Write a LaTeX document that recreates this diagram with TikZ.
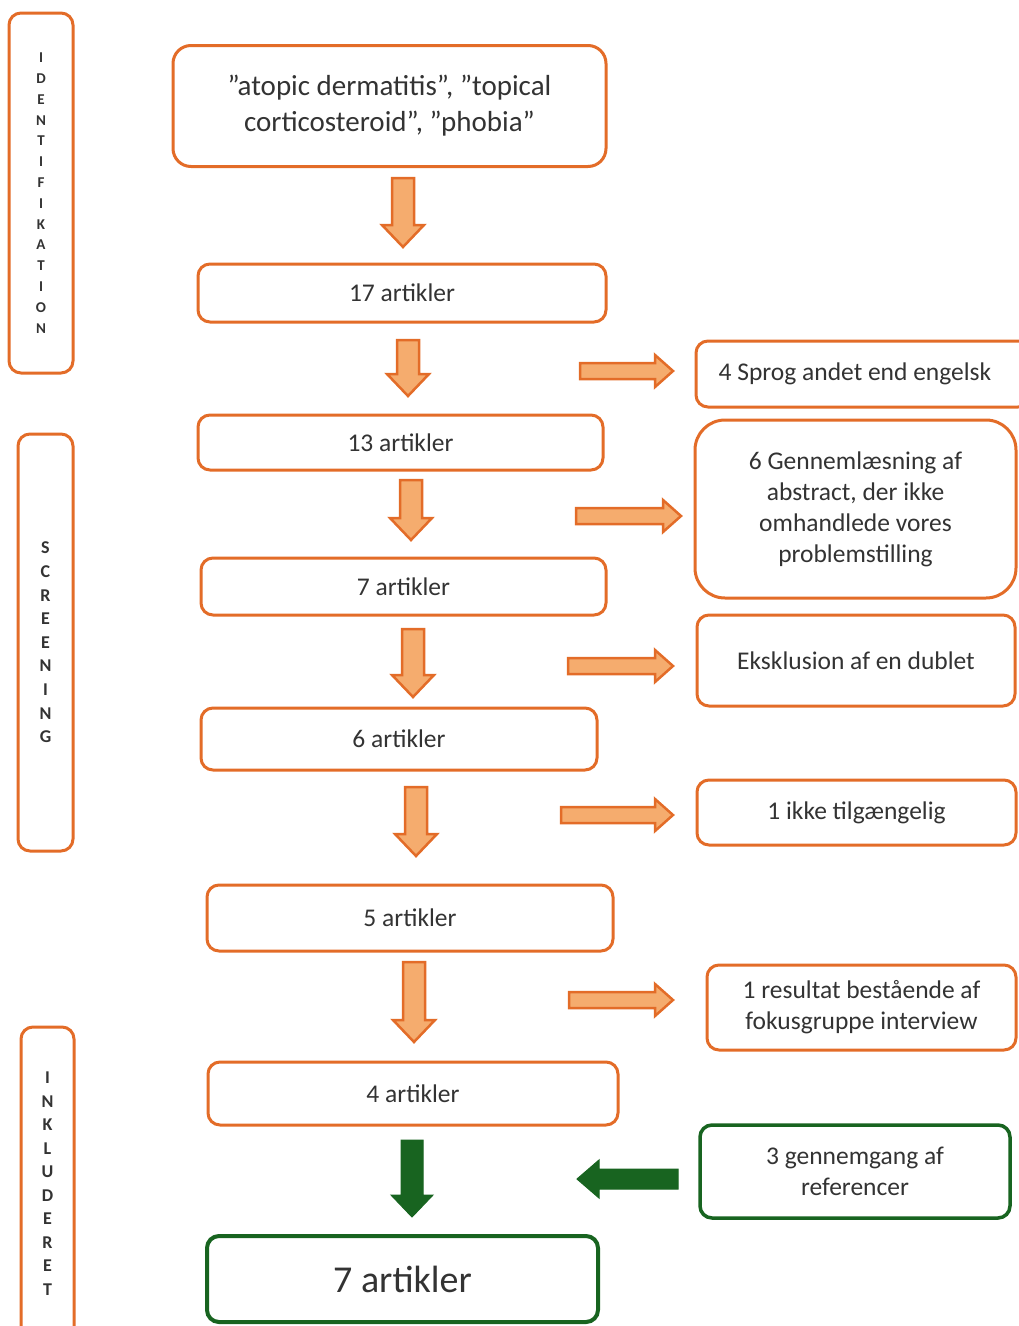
\documentclass[tikz,border=0pt]{standalone}
\usepackage{fontspec}
\setmainfont{Carlito}
\usepackage{xcolor}
\usetikzlibrary{positioning}
\usetikzlibrary{calc}

\definecolor{orng}{RGB}{227,108,40}
\definecolor{arrfill}{RGB}{245,172,110}
\definecolor{grn}{RGB}{24,100,32}
\definecolor{txt}{RGB}{51,51,51}

\tikzset{
  box/.style={draw=orng, line width=3pt, rounded corners=12pt, fill=white,
    align=center, text=txt, inner sep=0pt,
    font=\fontsize{25.5}{31}\selectfont},
  gbox/.style={box, draw=grn, line width=3.5pt},
  side/.style={draw=orng, line width=3pt, rounded corners=12pt, align=center,
    text=txt, inner sep=0pt},
  blockarr/.style={draw=orng, fill=arrfill, line width=2.5pt, line join=miter},
  greenarr/.style={draw=grn, fill=grn, line width=1pt},
}

% fat arrows: x, y from, y to  /  x from, x to, y
\newcommand{\dnarr}[4][blockarr]{%
  \draw[#1] (#2-11,#3) -- (#2+11,#3) -- (#2+11,#4-22) -- (#2+21,#4-22)
    -- (#2,#4) -- (#2-21,#4-22) -- (#2-11,#4-22) -- cycle;}
\newcommand{\rtarr}[4][blockarr]{%
  \draw[#1] (#2,#4-8) -- (#3-18,#4-8) -- (#3-18,#4-16) -- (#3,#4)
    -- (#3-18,#4+16) -- (#3-18,#4+8) -- (#2,#4+8) -- cycle;}

\begin{document}
\begin{tikzpicture}[x=1pt, y=-1pt]
  \useasboundingbox (0,0) rectangle (1018,1326);

  % phase boxes on the left
  \node[side, minimum width=64pt, minimum height=360pt,
    font=\fontsize{15}{20.8}\selectfont\bfseries] (ident) at (41,193)
    {I\\D\\E\\N\\T\\I\\F\\I\\K\\A\\T\\I\\O\\N};
  \node[side, minimum width=55pt, minimum height=417pt,
    font=\fontsize{18}{23.6}\selectfont\bfseries] (screen) at (45.5,642.5)
    {S\\C\\R\\E\\E\\N\\I\\N\\G};
  \node[side, minimum width=53pt, minimum height=313pt,
    font=\fontsize{18}{23.5}\selectfont\bfseries] (inkl) at (47.5,1183.5)
    {I\\N\\K\\L\\U\\D\\E\\R\\E\\T};

  % main column
  \node[box, rounded corners=18pt, minimum width=433pt, minimum height=121pt,
    font=\fontsize{29}{36}\selectfont] (search) at (389.5,106)
    {”atopic dermatitis”, ”topical\\corticosteroid”, ”phobia”};
  \node[box, minimum width=408pt, minimum height=58pt] (a17) at (402,293) {17 artikler};
  \node[box, minimum width=405pt, minimum height=55pt] (a13) at (400.5,442.5) {13 artikler};
  \node[box, minimum width=405pt, minimum height=57pt] (a7) at (403.5,586.5) {7 artikler};
  \node[box, minimum width=396pt, minimum height=62pt] (a6) at (399,739) {6 artikler};
  \node[box, minimum width=406pt, minimum height=66pt] (a5) at (410,918) {5 artikler};
  \node[box, minimum width=410pt, minimum height=63pt] (a4) at (413,1093.5) {4 artikler};
  \node[gbox, line width=4pt, minimum width=391pt, minimum height=86pt,
    font=\fontsize{38}{44}\selectfont] (final) at (402.5,1279) {7 artikler};

  % exclusions on the right
  \node[box, minimum width=334pt, minimum height=66pt] (sprog) at (863,374)
    {\hspace*{-16pt}4 Sprog andet end engelsk};
  \node[box, rounded corners=30pt, minimum width=321pt, minimum height=178pt] (abstr)
    at (855.5,509) {6 Gennemlæsning af\\abstract, der ikke\\omhandlede vores\\problemstilling};
  \node[box, minimum width=318pt, minimum height=91pt] (dublet) at (856,660.5)
    {Eksklusion af en dublet};
  \node[box, minimum width=319pt, minimum height=65pt] (ikke) at (856.5,812.5)
    {1 ikke tilgængelig};
  \node[box, minimum width=309pt, minimum height=85pt] (fokus) at (861.5,1007.5)
    {1 resultat bestående af\\fokusgruppe interview};
  \node[gbox, minimum width=310pt, minimum height=93pt] (refs) at (855,1171.5)
    {3 gennemgang af\\referencer};

  % down arrows
  \dnarr{403}{178}{247}
  \dnarr{408}{340}{396}
  \dnarr{411}{480}{540}
  \dnarr{413}{629}{697}
  \dnarr{416}{787}{856}
  \dnarr{414}{962}{1042}
  \dnarr[greenarr]{412}{1140}{1217}

  % side arrows
  \rtarr{580}{673}{371}
  \rtarr{576}{681}{516}
  \rtarr{568}{673}{666}
  \rtarr{561}{673}{815}
  \rtarr{569}{673}{1000}
  \draw[greenarr] (678,1169) -- (599,1169) -- (599,1160) -- (577,1179)
    -- (599,1198) -- (599,1189) -- (678,1189) -- cycle;
\end{tikzpicture}
\end{document}
